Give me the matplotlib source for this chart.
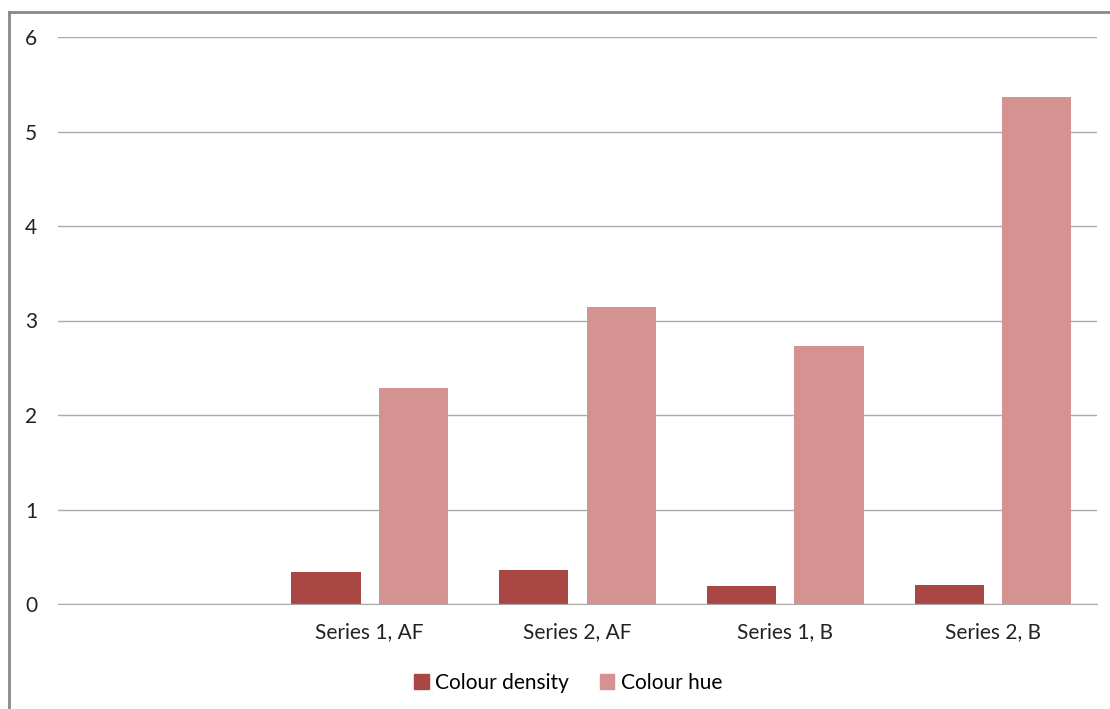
import numpy as np
import matplotlib.pyplot as plt
from matplotlib.lines import Line2D
from matplotlib.patches import Patch

# Datos
categorias = ['', 'Series 1, AF', 'Series 2, AF', 'Series 1, B', 'Series 2, B']
densidad = [0, 0.34, 0.36, 0.19, 0.20]
tono = [0, 2.29, 3.14, 2.73, 5.37]
yticks = [0, 1, 2, 3, 4, 5, 6]

c_dens = '#A84744'
c_tono = '#D49391'

plt.rcParams['font.family'] = ['Lato', 'DejaVu Sans']

fig = plt.figure(figsize=(11.1, 7.09), dpi=100)
ax = fig.add_axes([58/1110, 1 - 604/709, (1097-58)/1110, (604-37)/709])

x = np.arange(len(categorias))
ancho = 0.333
ax.bar(x - 0.21, densidad, ancho, color=c_dens, label='Colour density')
ax.bar(x + 0.21, tono, ancho, color=c_tono, label='Colour hue')

ax.set_xlim(-0.5, len(categorias) - 0.5)
ax.set_ylim(0, 6)
ax.set_yticks(yticks)
ax.set_xticks(x)
ax.set_xticklabels(categorias)
ax.tick_params(axis='both', length=0, labelsize=15, colors='#222222')
ax.tick_params(axis='y', pad=15)
ax.tick_params(axis='x', pad=13)
ax.grid(axis='y', color='#AAAAAA', linewidth=1)
ax.set_axisbelow(True)
for s in ['top', 'right', 'left']:
    ax.spines[s].set_visible(False)
ax.spines['bottom'].set_color('#AAAAAA')

handles = [Patch(color=c_dens), Patch(color=c_tono)]
fig.legend(handles, ['Colour density', 'Colour hue'], loc='center',
           bbox_to_anchor=(568/1110, 1 - 683/709), ncol=2, frameon=False,
           fontsize=15, handlelength=0.7, handleheight=0.7, handletextpad=0.3,
           columnspacing=1.5)

# marco del grafico
fig.add_artist(Line2D([9/1110, 9/1110], [0, 1 - 12/709], color='#888888', lw=2))
fig.add_artist(Line2D([9/1110, 1], [1 - 12/709, 1 - 12/709], color='#888888', lw=2))

fig.savefig('out.png', dpi=100)
